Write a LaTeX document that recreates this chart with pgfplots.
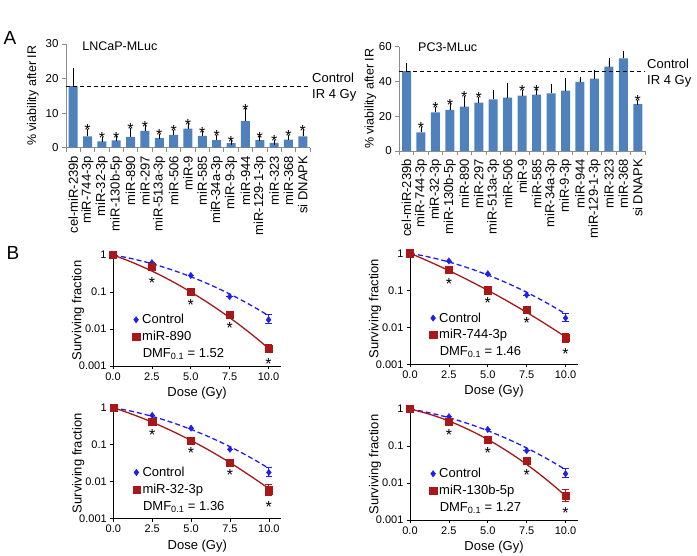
\documentclass[border=0pt]{standalone}
\usepackage{fontspec}
\setmainfont{Liberation Sans}
\usepackage{pgfplots}
\pgfplotsset{compat=1.18}
\usepackage{pgfplotstable}

\definecolor{barblue}{HTML}{4F81BD}
\definecolor{ctrlblue}{HTML}{1E1EF0}
\definecolor{mirred}{HTML}{A81818}
\definecolor{axgray}{HTML}{8C8C8C}

\newcommand{\fs}[1]{\fontsize{#1}{#1}\selectfont}

% A: % viability after 4 Gy (mean, sd)
\pgfplotstableread{
x y e
0 17.8 4.5
1 3.3 1.4
2 1.8 0.7
3 2.1 0.5
4 3.1 2.0
5 4.9 0.9
6 2.8 0.5
7 3.7 0.7
8 5.5 0.9
9 3.4 0.7
10 2.2 0.8
11 1.3 0.2
12 7.7 3.0
13 2.2 0.4
14 1.4 0.2
15 2.3 0.7
16 3.3 1.3
}\lncap

\pgfplotstableread{
x y e
0 46.0 3.2
1 10.7 1.7
2 22.2 1.7
3 23.6 2.5
4 25.5 4.8
5 27.8 1.9
6 29.7 3.8
7 30.7 6.7
8 31.8 2.1
9 32.4 1.7
10 33.1 4.2
11 34.7 6.1
12 39.7 1.7
13 41.6 3.4
14 48.5 3.4
15 53.3 2.9
16 27.0 1.1
}\pcthree

% B: surviving fraction
\pgfplotstableread{
d s ep em
0 1 0 0
2.5 0.62 0 0
5 0.28 0 0
7.5 0.075 0 0
10 0.0178 0.007 0.0035
}\ctrl

\pgfplotstableread{
d s
0 1
1 0.832
2 0.663
3 0.506
4 0.370
5 0.259
6 0.174
7 0.112
8 0.0690
9 0.0407
10 0.0230
}\ctrlfit

\pgfplotstableread{
d s ep em
0 1 0 0
2.5 0.48 0 0
5 0.10 0 0
7.5 0.024 0 0
10 0.0029 0.0010 0.0006
}\mireightninety
\pgfplotstableread{
d s
0 1
1 0.695
2 0.460
3 0.291
4 0.175
5 0.100
6 0.0548
7 0.0286
8 0.0142
9 0.0067
10 0.0030
}\fitA
\pgfplotstableread{
d s
2.5 0.21
5 0.055
7.5 0.0128
10 0.00136
}\starsA

\pgfplotstableread{
d s ep em
0 1 0 0
2.5 0.354 0 0
5 0.10 0 0
7.5 0.030 0 0
10 0.0053 0.0017 0.0014
}\mirsevenfortyfour
\pgfplotstableread{
d s
0 1
1 0.662
2 0.428
3 0.270
4 0.166
5 0.100
6 0.0588
7 0.0337
8 0.0189
9 0.0103
10 0.0055
}\fitB
\pgfplotstableread{
d s
2.5 0.18
5 0.054
7.5 0.0162
10 0.00234
}\starsB

\pgfplotstableread{
d s ep em
0 1 0 0
2.5 0.42 0 0
5 0.13 0 0
7.5 0.033 0 0
10 0.0059 0.0029 0.0017
}\mirthirtytwo
\pgfplotstableread{
d s
0 1
1 0.718
2 0.496
3 0.330
4 0.211
5 0.130
6 0.0771
7 0.0439
8 0.0241
9 0.0127
10 0.0065
}\fitC
\pgfplotstableread{
d s
2.5 0.222
5 0.073
7.5 0.0178
10 0.0025
}\starsC

\pgfplotstableread{
d s ep em
0 1 0 0
2.5 0.45 0 0
5 0.15 0 0
7.5 0.040 0 0
10 0.0045 0.0021 0.0013
}\mironethirty
\pgfplotstableread{
d s
0 1
1 0.778
2 0.568
3 0.388
4 0.249
5 0.150
6 0.0846
7 0.0448
8 0.0222
9 0.0103
10 0.0045
}\fitD
\pgfplotstableread{
d s
2.5 0.24
5 0.076
7.5 0.0195
10 0.0019
}\starsD

\pgfplotsset{
  barax/.style={
    scale only axis, width=245pt, height=104pt,
    xmin=-0.5, xmax=16.5, ymin=0,
    axis x line*=bottom, axis y line*=left,
    axis line style={-, axgray, line width=0.8pt},
    tick align=outside,
    tick style={axgray, line width=0.8pt},
    major tick length=4pt, minor tick length=4pt,
    xtick={0,...,16}, major x tick style={draw=none},
    minor xtick={-0.5,0.5,...,16.5},
    xticklabels={cel-miR-239b,miR-744-3p,miR-32-3p,miR-130b-5p,miR-890,miR-297,miR-513a-3p,miR-506,miR-9,miR-585,miR-34a-3p,miR-9-3p,miR-944,miR-129-1-3p,miR-323,miR-368,si DNAPK},
    xticklabel style={rotate=90, anchor=east, font=\fs{13}, inner sep=1pt, xshift=-3pt},
    yticklabel style={font=\fs{11.5}},
    /pgf/number format/assume math mode=true,
    ylabel={\% viability after IR},
    ylabel style={font=\fs{12.5}, at={(rel axis cs:0,0.5)}, anchor=center},
    clip=false,
  },
  starnodes/.style={draw=none, mark=none, nodes near coords={*}, point meta=y,
    every node near coord/.append style={font=\fs{16}, anchor=center, inner sep=0pt, yshift=-3pt}},
  survax/.style={
    scale only axis, width=168pt, height=111pt,
    xmin=0, xmax=10.8, ymin=0.001, ymax=1,
    axis x line*=bottom, axis y line*=left,
    axis line style={-, black, line width=0.8pt},
    tick align=outside, tick style={black, line width=0.6pt},
    major tick length=3pt, minor tick length=1.5pt,
    xtick={0,2.5,5,7.5,10},
    xticklabels={0.0,2.5,5.0,7.5,10.0},
    ytick={1,0.1,0.01,0.001}, yticklabels={1,0.1,0.01,0.001},
    ticklabel style={font=\fs{11}},
    xlabel={Dose (Gy)}, ylabel={Surviving fraction},
    label style={font=\fs{13}},
    ylabel style={at={(rel axis cs:0,0.5)}, anchor=center, yshift=35pt},
    clip=false,
    legend style={draw=none, fill=none, at={(rel axis cs:0.115,0.49)}, anchor=north west,
      font=\fs{13}, inner sep=0pt, row sep=1pt, nodes={inner sep=2.5pt}},
    legend cell align=left,
    legend image code/.code={\draw[##1] plot coordinates {(0pt,0pt)};},
  },
}

\newcommand{\survpanel}[7]{%
  \begin{axis}[ymode=log, survax, at={(#1pt,#2pt)}, anchor=south west]
    \addplot[ctrlblue, line width=1.3pt, dash pattern=on 5pt off 3pt, smooth, forget plot] table[x=d,y=s] {\ctrlfit};
    \addplot[mirred, line width=1.3pt, smooth, forget plot] table[x=d,y=s] {#4};
    \addplot[only marks, mark=diamond*, mark size=3.2pt, ctrlblue,
      error bars/.cd, y dir=both, y explicit, error bar style={line width=0.8pt}]
      table[x=d, y=s, y error plus=ep, y error minus=em] {\ctrl};
    \addlegendentry{Control}
    \addplot[only marks, mark=square*, mark size=3.6pt, mirred,
      error bars/.cd, y dir=both, y explicit, error bar style={line width=0.8pt}]
      table[x=d, y=s, y error plus=ep, y error minus=em] {#3};
    \addlegendentry{#6}
    \addplot[starnodes, forget plot] table[x=d,y=s] {#5};
    \node[anchor=west, font=\fs{13}, inner sep=0pt] at (axis cs:1.9,0.0021) {DMF\textsubscript{0.1} = #7};
  \end{axis}%
}

\begin{document}
\begin{tikzpicture}
\path[use as bounding box] (0,0) rectangle (697pt,555pt);

\node[font=\fs{19}] at (10pt,517pt) {A};
\node[font=\fs{19}] at (13pt,302pt) {B};

% A left: LNCaP-MLuc
\begin{axis}[barax, at={(66pt,407.3pt)}, anchor=south west, width=244pt, height=103.7pt,
  ymax=30, ytick={0,10,20,30}, ylabel style={yshift=33pt}]
  \addplot[ybar, bar width=9pt, fill=barblue, draw=none,
    error bars/.cd, y dir=plus, y explicit,
    error bar style={black, line width=0.6pt}, error mark options={black, mark size=2.5pt, line width=0.6pt}]
    table[x=x, y=y, y error=e] {\lncap};
  \addplot[black, line width=1pt, dash pattern=on 4pt off 3pt] coordinates {(-0.5,17.8) (16.5,17.8)};
  \addplot[starnodes, every node near coord/.append style={yshift=4pt}] coordinates {(1,4.7) (2,2.5) (3,2.6) (4,5.1) (5,5.8) (6,3.3) (7,4.4) (8,6.4) (9,4.1) (10,3.0) (11,1.5) (12,10.7) (13,2.6) (14,1.6) (15,3.0) (16,4.6)};
  \node[anchor=west, align=left, font=\fontsize{13}{16}\selectfont, inner sep=2pt] at (axis cs:16.5,17.5) {Control\\IR 4 Gy};
  \node[anchor=west, font=\fs{12.5}, inner sep=0pt] at (rel axis cs:0.066,0.974) {LNCaP-MLuc};
\end{axis}

% A right: PC3-MLuc
\begin{axis}[barax, at={(399.3pt,404pt)}, anchor=south west, width=245.7pt, height=104.3pt,
  ymax=60, ytick={0,20,40,60}, ylabel style={yshift=29pt}]
  \addplot[ybar, bar width=9pt, fill=barblue, draw=none,
    error bars/.cd, y dir=plus, y explicit,
    error bar style={black, line width=0.6pt}, error mark options={black, mark size=2.5pt, line width=0.6pt}]
    table[x=x, y=y, y error=e] {\pcthree};
  \addplot[black, line width=1pt, dash pattern=on 4pt off 3pt] coordinates {(-0.5,46) (16.5,46)};
  \addplot[starnodes, every node near coord/.append style={yshift=4pt}] coordinates {(1,12.4) (2,23.9) (3,26.1) (4,30.3) (5,29.7) (8,33.9) (9,34.1) (16,28.1)};
  \node[anchor=west, align=left, font=\fontsize{13}{16}\selectfont, inner sep=2pt] at (axis cs:16.5,45) {Control\\IR 4 Gy};
  \node[anchor=west, font=\fs{12.5}, inner sep=0pt] at (rel axis cs:0.076,0.994) {PC3-MLuc};
\end{axis}

% B: survival curves
\survpanel{113}{189}{\mireightninety}{\fitA}{\starsA}{miR-890}{1.52}
\survpanel{410}{190.7}{\mirsevenfortyfour}{\fitB}{\starsB}{miR-744-3p}{1.46}
\survpanel{113.3}{36.3}{\mirthirtytwo}{\fitC}{\starsC}{miR-32-3p}{1.36}
\survpanel{410}{35}{\mironethirty}{\fitD}{\starsD}{miR-130b-5p}{1.27}

\end{tikzpicture}
\end{document}
